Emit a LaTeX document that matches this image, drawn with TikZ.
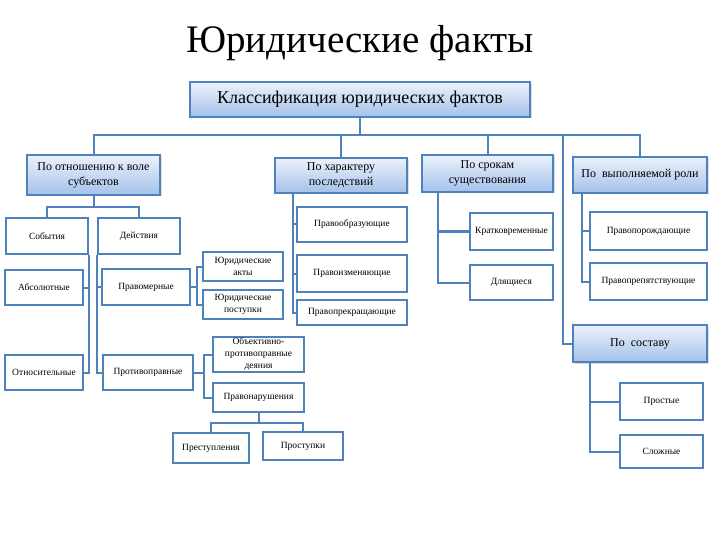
\documentclass[tikz,border=0pt]{standalone}
\usepackage{fontspec}
\setmainfont{Liberation Serif}
\usetikzlibrary{shadows}

\definecolor{frame}{RGB}{79,129,189}
\definecolor{topblue}{RGB}{236,242,251}
\definecolor{botblue}{RGB}{164,193,234}

\begin{document}
\begin{tikzpicture}[x=1pt, y=-1pt,
  head/.style={draw=frame, line width=2pt, top color=topblue, bottom color=botblue,
    drop shadow={opacity=0.25, shadow xshift=1.5pt, shadow yshift=-1.5pt},
    align=center, font=\fontsize{12}{15}\selectfont, inner sep=1pt},
  block/.style={draw=frame, line width=2pt, fill=white, align=center,
    font=\fontsize{9.5}{12}\selectfont, inner sep=1pt},
  conn/.style={draw=frame, line width=2pt}]

  \useasboundingbox (0,0) rectangle (720,540);

  % Title
  \node (T) at (360,43) {\fontsize{39}{42}\selectfont Юридические факты};
  \node[head, minimum width=340, minimum height=35, font=\fontsize{18}{20}\selectfont]
    (K) at (360,99.5) {Классификация юридических фактов};

  % Criteria
  \node[head, minimum width=133, minimum height=40] (C1) at (93.5,175) {По отношению к воле\\субъектов};
  \node[head, minimum width=132, minimum height=35] (C2) at (341,175.5) {По характеру\\последствий};
  \node[head, minimum width=131, minimum height=37] (C3) at (487.5,173.5) {По срокам\\существования};
  \node[head, minimum width=134, minimum height=36] (C4) at (640,175) {По\ \ выполняемой роли};
  \node[head, minimum width=134, minimum height=37] (C5) at (640,343.5) {По\ \ составу};

  % By will
  \node[block, minimum width=82, minimum height=36] (E1) at (47,236) {События};
  \node[block, minimum width=82, minimum height=36] (E2) at (139,236) {Действия};
  \node[block, minimum width=78, minimum height=35] (E3) at (44,287.5) {Абсолютные};
  \node[block, minimum width=78, minimum height=35] (E4) at (44,372.5) {Относительные};
  \node[block, minimum width=88, minimum height=36] (L1) at (146,287) {Правомерные};
  \node[block, minimum width=90, minimum height=35] (L2) at (148,372.5) {Противоправные};
  \node[block, minimum width=80, minimum height=29] (A1) at (243,266.5) {Юридические\\акты};
  \node[block, minimum width=80, minimum height=29] (A2) at (243,304.5) {Юридические\\поступки};
  \node[block, minimum width=91, minimum height=35] (N1) at (258.5,354.5) {Объективно-\\противоправные\\деяния};
  \node[block, minimum width=91, minimum height=29] (N2) at (258.5,397.5) {Правонарушения};
  \node[block, minimum width=76, minimum height=30] (N3) at (211,448) {Преступления};
  \node[block, minimum width=80, minimum height=28] (N4) at (303,446) {Проступки};

  % By consequences
  \node[block, minimum width=110, minimum height=35] (R1) at (352,224.5) {Правообразующие};
  \node[block, minimum width=110, minimum height=37] (R2) at (352,273.5) {Правоизменяющие};
  \node[block, minimum width=110, minimum height=25] (R3) at (352,312.5) {Правопрекращающие};

  % By duration
  \node[block, minimum width=83, minimum height=37] (D1) at (511.5,231.5) {Кратковременные};
  \node[block, minimum width=83, minimum height=35] (D2) at (511.5,282.5) {Длящиеся};

  % By role
  \node[block, minimum width=117, minimum height=38] (F1) at (648.5,231) {Правопорождающие};
  \node[block, minimum width=117, minimum height=37] (F2) at (648.5,281.5) {Правопрепятствующие};

  % By composition
  \node[block, minimum width=83, minimum height=37] (S1) at (661.5,401.5) {Простые};
  \node[block, minimum width=83, minimum height=33] (S2) at (661.5,451.5) {Сложные};

  % Junctions
  \coordinate (B0) at (360,135);
  \coordinate (B5) at (563,135);
  \coordinate (J1) at (93.5,207);
  \coordinate (J2) at (197,287);
  \coordinate (J3) at (204,372.5);
  \coordinate (J4) at (258.5,423);
  \coordinate (G2) at (293,193);
  \coordinate (G3) at (438,192);
  \coordinate (G4) at (582,193);
  \coordinate (G5) at (590,362);

  % Top bus
  \draw[conn] (K.south) -- (B0);
  \draw[conn] (C1.north) |- (B0) -| (C4.north);
  \draw[conn] (C2.north) -- (C2.north |- B0);
  \draw[conn] (C3.north) -- (C3.north |- B0);
  \draw[conn] (B5) |- (C5.west);

  % Left branch
  \draw[conn] (C1.south) -- (J1);
  \draw[conn] (E1.north) |- (J1) -| (E2.north);
  \draw[conn] (E1.south east) |- (E4.east);
  \draw[conn] (E3.east) -| (E1.south east);
  \draw[conn] (E2.south west) |- (L2.west);
  \draw[conn] (L1.west) -| (E2.south west);
  \draw[conn] (L1.east) -- (J2);
  \draw[conn] (A1.west) -| (J2) |- (A2.west);
  \draw[conn] (L2.east) -- (J3);
  \draw[conn] (N1.west) -| (J3) |- (N2.west);
  \draw[conn] (N2.south) -- (J4);
  \draw[conn] (N3.north) |- (J4) -| (N4.north);

  % Other branches
  \draw[conn] (G2) |- (R3.west);
  \draw[conn] (G2 |- R1.west) -- (R1.west);
  \draw[conn] (G2 |- R2.west) -- (R2.west);
  \draw[conn] (G3) |- (D2.west);
  \draw[conn] (G3 |- D1.west) -- (D1.west);
  \draw[conn] (G4) |- (F2.west);
  \draw[conn] (G4 |- F1.west) -- (F1.west);
  \draw[conn] (G5) |- (S2.west);
  \draw[conn] (G5 |- S1.west) -- (S1.west);

\end{tikzpicture}
\end{document}
